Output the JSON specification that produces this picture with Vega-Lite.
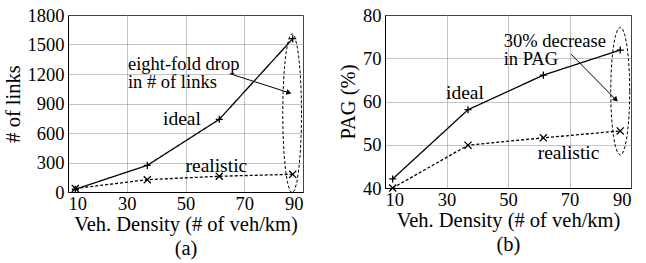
{
  "$schema": "https://vega.github.io/schema/vega-lite/v6.json",
  "padding": {"left": 2, "top": 5, "right": 0, "bottom": 0},
  "spacing": 33,
  "background": "white",
  "config": {
    "view": {"stroke": "black", "strokeWidth": 1},
    "font": "'Liberation Serif', 'DejaVu Serif', serif",
    "axis": {
      "labelFont": "'Liberation Serif', 'DejaVu Serif', serif", "labelFontSize": 18.5, "labelColor": "black",
      "titleFont": "'Liberation Serif', 'DejaVu Serif', serif", "titleFontSize": 20.5, "titleFontWeight": "normal", "titleColor": "black",
      "gridColor": "#888", "gridDash": [1, 1], "gridWidth": 1,
      "domainColor": "black", "tickColor": "black", "tickSize": 0, "labelPadding": 4, "format": "d"
    },
    "axisX": {"titleLineHeight": 24, "titlePadding": 2, "labelPadding": 2},
    "axisY": {"titlePadding": 4}
  },
  "datasets": {
    "linksA": [
      {"s": "ideal", "x": 12.5, "y": 28}, {"s": "ideal", "x": 37, "y": 271}, {"s": "ideal", "x": 61.5, "y": 739}, {"s": "ideal", "x": 86.5, "y": 1559},
      {"s": "realistic", "x": 12.5, "y": 36}, {"s": "realistic", "x": 37, "y": 125}, {"s": "realistic", "x": 61.5, "y": 160}, {"s": "realistic", "x": 86.5, "y": 180}
    ],
    "pagB": [
      {"s": "ideal", "x": 12.5, "y": 42.1}, {"s": "ideal", "x": 37, "y": 58.1}, {"s": "ideal", "x": 61.5, "y": 66.1}, {"s": "ideal", "x": 86.5, "y": 71.9},
      {"s": "realistic", "x": 12.5, "y": 40.0}, {"s": "realistic", "x": 37, "y": 49.9}, {"s": "realistic", "x": 61.5, "y": 51.6}, {"s": "realistic", "x": 86.5, "y": 53.2}
    ],
    "ellA": [
      {"i": 0, "x": 89.5, "y": 800}, {"i": 1, "x": 89.39, "y": 1010}, {"i": 2, "x": 89.07, "y": 1205}, {"i": 3, "x": 88.56, "y": 1373},
      {"i": 4, "x": 87.9, "y": 1501}, {"i": 5, "x": 87.13, "y": 1582}, {"i": 6, "x": 86.3, "y": 1610}, {"i": 7, "x": 85.47, "y": 1582},
      {"i": 8, "x": 84.7, "y": 1501}, {"i": 9, "x": 84.04, "y": 1373}, {"i": 10, "x": 83.53, "y": 1205}, {"i": 11, "x": 83.21, "y": 1010},
      {"i": 12, "x": 83.1, "y": 800}, {"i": 13, "x": 83.21, "y": 590}, {"i": 14, "x": 83.53, "y": 395}, {"i": 15, "x": 84.04, "y": 227},
      {"i": 16, "x": 84.7, "y": 99}, {"i": 17, "x": 85.47, "y": 18}, {"i": 18, "x": 86.3, "y": -10}, {"i": 19, "x": 87.13, "y": 18},
      {"i": 20, "x": 87.9, "y": 99}, {"i": 21, "x": 88.56, "y": 227}, {"i": 22, "x": 89.07, "y": 395}, {"i": 23, "x": 89.39, "y": 590},
      {"i": 24, "x": 89.5, "y": 800}
    ],
    "ellB": [
      {"i": 0, "x": 89.6, "y": 62.4}, {"i": 1, "x": 89.49, "y": 66.23}, {"i": 2, "x": 89.18, "y": 69.8}, {"i": 3, "x": 88.69, "y": 72.86},
      {"i": 4, "x": 88.05, "y": 75.22}, {"i": 5, "x": 87.3, "y": 76.7}, {"i": 6, "x": 86.5, "y": 77.2}, {"i": 7, "x": 85.7, "y": 76.7},
      {"i": 8, "x": 84.95, "y": 75.22}, {"i": 9, "x": 84.31, "y": 72.86}, {"i": 10, "x": 83.82, "y": 69.8}, {"i": 11, "x": 83.51, "y": 66.23},
      {"i": 12, "x": 83.4, "y": 62.4}, {"i": 13, "x": 83.51, "y": 58.57}, {"i": 14, "x": 83.82, "y": 55.0}, {"i": 15, "x": 84.31, "y": 51.94},
      {"i": 16, "x": 84.95, "y": 49.58}, {"i": 17, "x": 85.7, "y": 48.1}, {"i": 18, "x": 86.5, "y": 47.6}, {"i": 19, "x": 87.3, "y": 48.1},
      {"i": 20, "x": 88.05, "y": 49.58}, {"i": 21, "x": 88.69, "y": 51.94}, {"i": 22, "x": 89.18, "y": 55.0}, {"i": 23, "x": 89.49, "y": 58.57},
      {"i": 24, "x": 89.6, "y": 62.4}
    ],
    "notesA": [
      {"t": "ideal", "x": 48.8, "y": 742},
      {"t": "realistic", "x": 60.5, "y": 264}
    ],
    "noteA2": [{"t": ["eight-fold drop", " in # of links"], "x": 30.4, "y": 1305}],
    "notesB": [
      {"t": "ideal", "x": 36.0, "y": 62.0},
      {"t": "realistic", "x": 69.7, "y": 48.2}
    ],
    "noteB2": [{"t": ["30% decrease", " in PAG"], "x": 48.6, "y": 74.0}],
    "arrowA": [{"x": 65.1, "y": 1203, "x2": 85.2, "y2": 1010}],
    "arrowB": [{"x": 70.5, "y": 70.95, "x2": 85.1, "y2": 60.4}]
  },
  "hconcat": [
    {
      "width": 235, "height": 177,
      "encoding": {
        "x": {"field": "x", "type": "quantitative", "scale": {"domain": [10, 90], "nice": false},
              "axis": {"values": [10, 30, 50, 70, 90], "title": ["Veh. Density (# of veh/km)", "(a)"], "grid": true}},
        "y": {"field": "y", "type": "quantitative", "scale": {"domain": [0, 1800], "nice": false},
              "axis": {"values": [0, 300, 600, 900, 1200, 1500, 1800], "title": "# of links", "grid": true}}
      },
      "layer": [
        {
          "data": {"name": "linksA"},
          "mark": {"type": "line", "color": "black", "strokeWidth": 1.3},
          "encoding": {
            "strokeDash": {"field": "s", "type": "nominal", "scale": {"domain": ["ideal", "realistic"], "range": [[1, 0], [3, 2]]}, "legend": null}
          }
        },
        {
          "data": {"name": "linksA"},
          "mark": {"type": "point", "filled": false, "color": "black", "strokeWidth": 1.3, "size": 50, "opacity": 1},
          "encoding": {
            "shape": {"field": "s", "type": "nominal", "scale": {"domain": ["ideal", "realistic"], "range": ["M-1,0L1,0M0,-1L0,1", "M-1,-1L1,1M-1,1L1,-1"]}, "legend": null}
          }
        },
        {
          "data": {"name": "ellA"},
          "mark": {"type": "line", "color": "black", "strokeWidth": 1, "strokeDash": [3, 2], "clip": false},
          "encoding": {"order": {"field": "i", "type": "quantitative"}}
        },
        {
          "data": {"name": "arrowA"},
          "mark": {"type": "rule", "color": "black", "strokeWidth": 1},
          "encoding": {"x2": {"field": "x2"}, "y2": {"field": "y2"}}
        },
        {
          "data": {"name": "arrowA"},
          "mark": {"type": "point", "shape": "triangle-right", "filled": true, "color": "black", "size": 35, "angle": 18, "opacity": 1},
          "encoding": {"x": {"field": "x2", "type": "quantitative"}, "y": {"field": "y2", "type": "quantitative"}}
        },
        {
          "data": {"name": "notesA"},
          "mark": {"type": "text", "font": "'Liberation Serif', 'DejaVu Serif', serif", "fontSize": 19.5, "color": "black", "align": "center", "baseline": "middle"},
          "encoding": {"text": {"field": "t"}}
        },
        {
          "data": {"name": "noteA2"},
          "mark": {"type": "text", "font": "'Liberation Serif', 'DejaVu Serif', serif", "fontSize": 18.5, "lineHeight": 18.5, "color": "black", "align": "left", "baseline": "middle"},
          "encoding": {"text": {"field": "t"}}
        }
      ]
    },
    {
      "width": 246, "height": 173,
      "encoding": {
        "x": {"field": "x", "type": "quantitative", "scale": {"domain": [10, 90], "nice": false},
              "axis": {"values": [10, 30, 50, 70, 90], "title": ["Veh. Density (# of veh/km)", "(b)"], "grid": true}},
        "y": {"field": "y", "type": "quantitative", "scale": {"domain": [40, 80], "nice": false, "zero": false},
              "axis": {"values": [40, 50, 60, 70, 80], "title": "PAG (%)", "grid": true}}
      },
      "layer": [
        {
          "data": {"name": "pagB"},
          "mark": {"type": "line", "color": "black", "strokeWidth": 1.3},
          "encoding": {
            "strokeDash": {"field": "s", "type": "nominal", "scale": {"domain": ["ideal", "realistic"], "range": [[1, 0], [3, 2]]}, "legend": null}
          }
        },
        {
          "data": {"name": "pagB"},
          "mark": {"type": "point", "filled": false, "color": "black", "strokeWidth": 1.3, "size": 50, "opacity": 1},
          "encoding": {
            "shape": {"field": "s", "type": "nominal", "scale": {"domain": ["ideal", "realistic"], "range": ["M-1,0L1,0M0,-1L0,1", "M-1,-1L1,1M-1,1L1,-1"]}, "legend": null}
          }
        },
        {
          "data": {"name": "ellB"},
          "mark": {"type": "line", "color": "black", "strokeWidth": 1, "strokeDash": [3, 2], "clip": false},
          "encoding": {"order": {"field": "i", "type": "quantitative"}}
        },
        {
          "data": {"name": "arrowB"},
          "mark": {"type": "rule", "color": "black", "strokeWidth": 1},
          "encoding": {"x2": {"field": "x2"}, "y2": {"field": "y2"}}
        },
        {
          "data": {"name": "arrowB"},
          "mark": {"type": "point", "shape": "triangle-right", "filled": true, "color": "black", "size": 35, "angle": 45, "opacity": 1},
          "encoding": {"x": {"field": "x2", "type": "quantitative"}, "y": {"field": "y2", "type": "quantitative"}}
        },
        {
          "data": {"name": "notesB"},
          "mark": {"type": "text", "font": "'Liberation Serif', 'DejaVu Serif', serif", "fontSize": 19.5, "color": "black", "align": "center", "baseline": "middle"},
          "encoding": {"text": {"field": "t"}}
        },
        {
          "data": {"name": "noteB2"},
          "mark": {"type": "text", "font": "'Liberation Serif', 'DejaVu Serif', serif", "fontSize": 18.5, "lineHeight": 18.5, "color": "black", "align": "left", "baseline": "middle"},
          "encoding": {"text": {"field": "t"}}
        }
      ]
    }
  ]
}
